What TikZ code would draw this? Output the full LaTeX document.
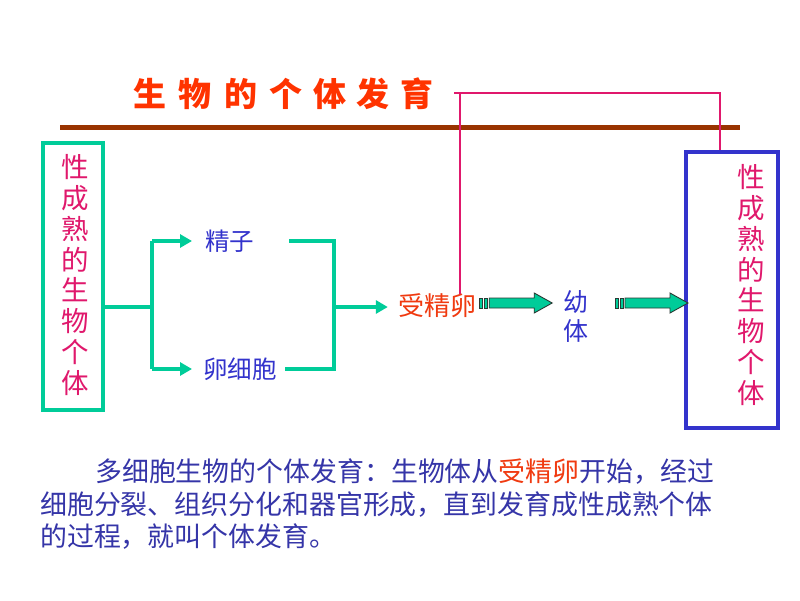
\documentclass[tikz,border=0pt]{standalone}
\usepackage{fontspec}
\newfontfamily\cjk{Noto Sans CJK SC}
\usetikzlibrary{arrows.meta}
\definecolor{teal1}{HTML}{00CC99}
\definecolor{titred}{HTML}{FF3300}
\definecolor{brownl}{HTML}{993300}
\definecolor{pinkl}{HTML}{E0186C}
\definecolor{bluel}{HTML}{3333CC}
\definecolor{parab}{HTML}{3535A8}
\definecolor{zygred}{HTML}{F03A10}
\definecolor{outl}{HTML}{2A3A34}
\tikzset{
  gline/.style={draw=teal1, line width=4pt},
  garrow/.style={gline, -{Triangle[length=12pt,width=13pt]}},
  pline/.style={draw=pinkl, line width=2.5pt},
  vtext/.style={font=\cjk\fontsize{27.5}{30.8}\selectfont, text=pinkl, align=center, inner sep=0pt},
  lbl/.style={font=\cjk\fontsize{24.5}{28}\selectfont, text=bluel, inner sep=0pt},
  para/.style={font=\cjk\fontsize{26.9}{30}\selectfont, text=parab, inner sep=0pt, anchor=west},
  titch/.style={font=\cjk\bfseries\fontsize{33}{36}\selectfont, text=titred, inner sep=0pt},
  barrow/.pic={
    \path[fill=teal1, draw=outl, line width=0.9pt] (0,-5) rectangle (3.5,5);
    \path[fill=teal1, draw=outl, line width=0.9pt] (5,-5) rectangle (8.5,5);
    \path[fill=teal1, draw=outl, line width=0.9pt]
      (10,-5) -- (55,-5) -- (55,-10) -- (73,0) -- (55,10) -- (55,5) -- (10,5) -- cycle;
  }
}
\begin{document}
\begin{tikzpicture}[x=1pt,y=-1pt]
\useasboundingbox (0,0) rectangle (800,600);
\fill[white] (0,0) rectangle (800,600);

% title
\node[titch] (t1) at (150,94) {生};
\node[titch] (t2) at (195,94) {物};
\node[titch] (t3) at (241,94) {的};
\node[titch] (t4) at (286,94) {个};
\node[titch] (t5) at (330,94) {体};
\node[titch] (t6) at (373,94) {发};
\node[titch] (t7) at (417,94) {育};
\draw[brownl, line width=5pt] (60,127) -- (740,127);

% left box
\node[draw=teal1, line width=4pt, minimum width=60pt, minimum height=267pt, inner sep=0pt] (lbox) at (73,276.5) {};
\node[vtext] (ltext) at (75,275) {性\\成\\熟\\的\\生\\物\\个\\体};

% right box
\node[draw=bluel, line width=4pt, minimum width=92pt, minimum height=276pt, inner sep=0pt] (rbox) at (732,290) {};
\node[vtext] (rtext) at (751,285) {性\\成\\熟\\的\\生\\物\\个\\体};

% labels
\node[lbl, anchor=west] (sperm) at (205,241) {精子};
\node[lbl, anchor=west] (egg) at (203,369) {卵细胞};
\node[font=\cjk\fontsize{26}{30}\selectfont, text=zygred, inner sep=0pt] (zyg) at (437,306) {受精卵};
\node[font=\cjk\fontsize{25}{29}\selectfont, text=bluel, inner sep=0pt, align=center] (juv) at (576,316) {幼\\体};

% branching connectors
\coordinate (sp) at (152,307);
\draw[gline] (lbox.east |- sp) -- (sp);
\draw[gline] (sp |- sperm.west) -- (sp |- egg.west);
\draw[garrow] (sp |- sperm.west) -- ([xshift=-13pt]sperm.west);
\draw[garrow] (sp |- egg.west) -- ([xshift=-11pt]egg.west);

\coordinate (jn) at (334,307);
\draw[gline] ([xshift=35pt]sperm.east) -- (jn |- sperm.east) -- (jn |- egg.east) -- ([xshift=8pt]egg.east);
\draw[garrow] (jn) -- ([xshift=-10pt]zyg.west |- jn);

% block arrows
\pic at ([xshift=3pt]zyg.east |- 0,303) {barrow};
\pic at ([xshift=-69pt]rbox.west |- 0,303) {barrow};

% pink connector
\coordinate (pk) at (454,93);
\coordinate (pr) at (720,93);
\coordinate (pv) at (460,93);
\draw[pline] (pk) -- (pr) -- (pr |- rbox.north);
\draw[pline] (pv) -- (pv |- zyg.north);

% paragraph
\node[para] (p1) at (95,472) {多细胞生物的个体发育：生物体从\textcolor{zygred}{受精卵}开始，经过};
\node[para] (p2) at (40,505) {细胞分裂、组织分化和器官形成，直到发育成性成熟个体};
\node[para] (p3) at (40,537) {的过程，就叫个体发育。};
\end{tikzpicture}
\end{document}
